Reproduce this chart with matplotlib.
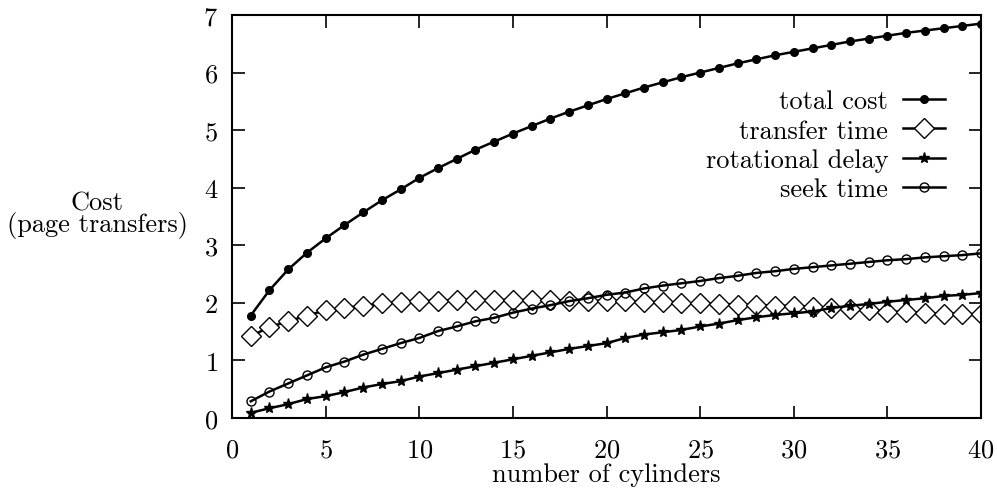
import matplotlib.pyplot as plt

plt.rcParams['font.family'] = 'cmr10'
plt.rcParams['axes.formatter.use_mathtext'] = True

cylinders = list(range(1, 41))

total_cost = [1.78, 2.22, 2.58, 2.87, 3.12, 3.35, 3.57, 3.78, 3.97, 4.17,
              4.34, 4.50, 4.66, 4.80, 4.94, 5.07, 5.20, 5.32, 5.43, 5.54,
              5.64, 5.74, 5.83, 5.92, 6.00, 6.08, 6.16, 6.23, 6.30, 6.36,
              6.42, 6.48, 6.54, 6.59, 6.64, 6.69, 6.73, 6.77, 6.81, 6.85]

transfer_time = [1.42, 1.58, 1.68, 1.78, 1.87, 1.91, 1.95, 1.99, 2.01, 2.03,
                 2.04, 2.05, 2.05, 2.05, 2.05, 2.05, 2.05, 2.04, 2.04, 2.03,
                 2.03, 2.02, 2.01, 2.00, 1.99, 1.98, 1.97, 1.96, 1.95, 1.95,
                 1.93, 1.91, 1.89, 1.87, 1.85, 1.84, 1.82, 1.81, 1.81, 1.80]

rotational_delay = [0.09, 0.17, 0.24, 0.33, 0.38, 0.45, 0.53, 0.59, 0.64, 0.72,
                    0.78, 0.84, 0.90, 0.96, 1.02, 1.08, 1.14, 1.20, 1.25, 1.30,
                    1.39, 1.45, 1.49, 1.53, 1.59, 1.64, 1.70, 1.75, 1.79, 1.82,
                    1.85, 1.91, 1.95, 1.98, 2.02, 2.05, 2.08, 2.12, 2.14, 2.17]

seek_time = [0.29, 0.46, 0.60, 0.74, 0.88, 0.98, 1.10, 1.20, 1.30, 1.39,
             1.51, 1.59, 1.68, 1.74, 1.83, 1.90, 1.96, 2.03, 2.08, 2.14,
             2.18, 2.25, 2.30, 2.34, 2.38, 2.43, 2.47, 2.52, 2.55, 2.59,
             2.62, 2.65, 2.68, 2.71, 2.74, 2.76, 2.79, 2.81, 2.83, 2.86]

fs = 19

fig = plt.figure(figsize=(9.97, 4.89), dpi=100)
ax = fig.add_axes([0.2327, 0.1431, 0.7513, 0.8242])

lw = 1.8
ax.plot(cylinders, total_cost, color='black', lw=lw, marker='o', ms=5.5,
        mfc='black', label='total cost')
ax.plot(cylinders, transfer_time, color='black', lw=lw, marker='D', ms=10,
        mfc='white', mew=1.0, label='transfer time')
ax.plot(cylinders, rotational_delay, color='black', lw=lw, marker='*', ms=8,
        mfc='black', label='rotational delay')
ax.plot(cylinders, seek_time, color='black', lw=lw, marker='o', ms=6.5,
        mfc='none', mew=1.0, label='seek time')

ax.set_xlim(0, 40)
ax.set_ylim(0, 7)
ax.set_xticks(range(0, 41, 5))
ax.set_yticks(range(0, 8))
ax.tick_params(direction='in', length=9, width=1.2, top=True, right=True,
               labelsize=fs)
ax.tick_params(axis='y', pad=10)
ax.tick_params(axis='x', pad=14)
for s in ax.spines.values():
    s.set_linewidth(1.5)

ax.set_xlabel('number of cylinders', fontsize=fs, labelpad=1)
ax.set_ylabel('Cost\n(page transfers)', fontsize=fs, rotation=0,
              ha='center', va='center', labelpad=0, linespacing=0.85)
ax.yaxis.set_label_coords(-0.180, 0.505)

leg = ax.legend(loc='upper right', bbox_to_anchor=(0.952, 0.815), frameon=False,
                markerfirst=False, fontsize=fs, handlelength=1.6,
                labelspacing=0.21, handletextpad=0.55, borderaxespad=0,
                borderpad=0)
for t in leg.get_texts():
    t.set_ha('right')

fig.savefig('out.png', dpi=100)
